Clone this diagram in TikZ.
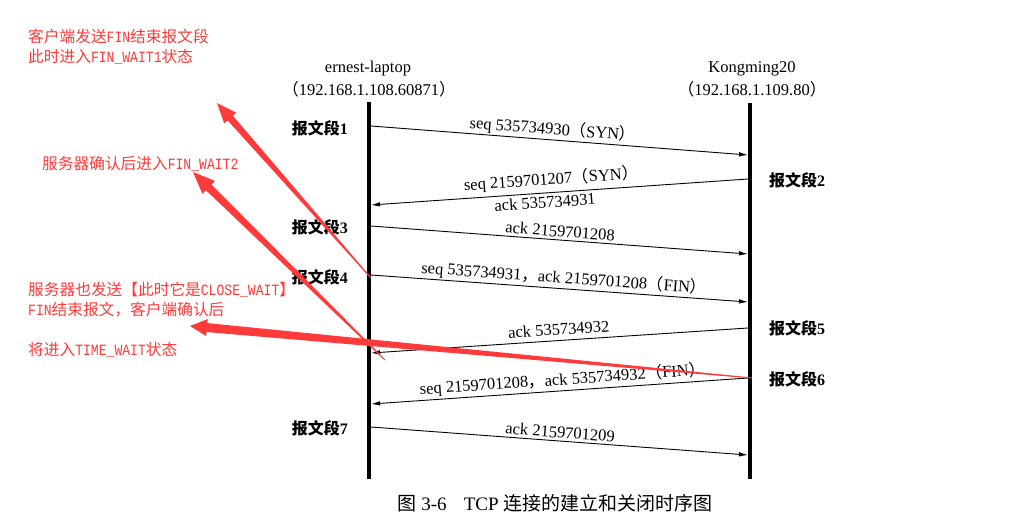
\documentclass[tikz,border=0pt]{standalone}
\usepackage{fontspec}
\setmainfont{Liberation Serif}
\newfontfamily\cjk{Noto Sans CJK SC}
\newfontfamily\rmono{Liberation Mono}[Scale=1.0,FakeStretch=0.833]
\usetikzlibrary{arrows.meta,calc}
\definecolor{redc}{RGB}{255,58,58}
\newcommand\taperarrow[6]{%
  \path ($(#2)!#6!(#1)$) coordinate (tb);
  \fill[redc] ($(#1)!#3!90:(#2)$) -- ($(tb)!#4!90:(#2)$) -- ($(tb)!#5!90:(#2)$) -- (#2)
    -- ($(tb)!#5!-90:(#2)$) -- ($(tb)!#4!-90:(#2)$) -- ($(#1)!#3!-90:(#2)$) -- cycle;
}
\begin{document}
\begin{tikzpicture}[x=1pt,y=-1pt,
  redtxt/.style={anchor=base west, text=redc, font=\cjk\fontsize{15.7}{18}\selectfont, inner sep=0pt},
  hdr/.style={font=\fontsize{16.5}{19}\selectfont, inner sep=0pt},
  seglbl/.style={font=\bfseries\fontsize{16}{19}\selectfont, inner sep=0pt},
  msg/.style={draw=black, line width=0.9pt, -{Latex[length=9pt,width=4.5pt]}},
  life/.style={line width=3.5pt},
  mlab/.style={sloped, font=\fontsize{16.5}{19}\selectfont, inner sep=0pt}]
\useasboundingbox (0,0) rectangle (1027,524);
\fill[white] (0,0) rectangle (1027,524);

% headers
\node[hdr] (hl1) at (368,69) {ernest-laptop};
\node[hdr] (hl2) at (369,89) {{\cjk （}192.168.1.108.60871{\cjk ）}};
\node[hdr] (hr1) at (752,69) {Kongming20};
\node[hdr] (hr2) at (752,89) {{\cjk （}192.168.1.109.80{\cjk ）}};

% lifelines
\coordinate (ltop) at (369,102);
\coordinate (lbot) at (369,479);
\coordinate (rtop) at (750,103);
\coordinate (rbot) at (750,479);
\draw[life] (ltop) -- (lbot);
\draw[life] (rtop) -- (rbot);

% endpoints
\coordinate (a1) at (371,126); \coordinate (b1) at (748,155);
\coordinate (a2) at (748,179); \coordinate (b2) at (371,205);
\coordinate (a3) at (371,226); \coordinate (b3) at (748,254);
\coordinate (a4) at (371,275); \coordinate (b4) at (748,302);
\coordinate (a5) at (748,328); \coordinate (b5) at (371,353);
\coordinate (a6) at (748,378); \coordinate (b6) at (371,404);
\coordinate (a7) at (371,427); \coordinate (b7) at (748,455);

\draw[msg] (a1) -- node[mlab, above=1.5pt, pos=.48] (t1) {seq 535734930{\cjk （}SYN{\cjk ）}} (b1);
\draw[msg] (a2) -- node[mlab, above=4pt, pos=.52] (t2) {seq 2159701207{\cjk （}SYN{\cjk ）}}
                   node[mlab, below=3pt, pos=.54] (t2b) {ack 535734931} (b2);
\draw[msg] (a3) -- node[mlab, above=2.5pt, pos=.5] (t3) {ack 2159701208} (b3);
\draw[msg] (a4) -- node[mlab, above=1.5pt, pos=.51] (t4) {seq 535734931{\cjk ，}ack 2159701208{\cjk （}FIN{\cjk ）}} (b4);
\draw[msg] (a5) -- node[mlab, above=5pt, pos=.5] (t5) {ack 535734932} (b5);
\draw[msg] (a6) -- node[mlab, above=2pt, pos=.49] (t6) {seq 2159701208{\cjk ，}ack 535734932{\cjk （}FIN{\cjk ）}} (b6);
\draw[msg] (a7) -- node[mlab, above=2.5pt, pos=.5] (t7) {ack 2159701209} (b7);

% segment labels
\node[seglbl, anchor=east] (s1) at (348,128) {{\cjk 报文段}1};
\node[seglbl, anchor=east] (s3) at (348,227) {{\cjk 报文段}3};
\node[seglbl, anchor=east] (s4) at (348,277) {{\cjk 报文段}4};
\node[seglbl, anchor=east] (s7) at (348,428) {{\cjk 报文段}7};
\node[seglbl, anchor=west] (s2) at (769,180) {{\cjk 报文段}2};
\node[seglbl, anchor=west] (s5) at (769,328) {{\cjk 报文段}5};
\node[seglbl, anchor=west] (s6) at (769,379) {{\cjk 报文段}6};

% caption
\node[font=\fontsize{19}{22}\selectfont, inner sep=0pt] (cap) at (555,503)
  {{\cjk 图} 3-6\hspace{0.9em}TCP {\cjk 连接的建立和关闭时序图}};

% red annotations
\node[redtxt] (r1) at (28,43) {客户端发送{\rmono FIN}结束报文段};
\node[redtxt] (r2) at (28,63) {此时进入{\rmono FIN\_WAIT1}状态};
\node[redtxt] (r3) at (42,169) {服务器确认后进入{\rmono FIN\_WAIT2}};
\node[redtxt] (r4) at (28,295) {服务器也发送【此时它是{\rmono CLOSE\_WAIT}】};
\node[redtxt] (r5) at (28,315) {{\rmono FIN}结束报文，客户端确认后};
\node[redtxt] (r6) at (28,355) {将进入{\rmono TIME\_WAIT}状态};

% red tapered arrows
\coordinate (T1) at (371,278); \coordinate (P1) at (217,103);
\coordinate (T2) at (385,360); \coordinate (P2) at (193,172);
\coordinate (T3) at (752,378); \coordinate (P3) at (190,326);
\taperarrow{T1}{P1}{0.5pt}{3.5pt}{8pt}{20pt}
\taperarrow{T2}{P2}{0.5pt}{4pt}{9pt}{22pt}
\taperarrow{T3}{P3}{0.5pt}{4.5pt}{8.5pt}{17pt}
\end{tikzpicture}
\end{document}
